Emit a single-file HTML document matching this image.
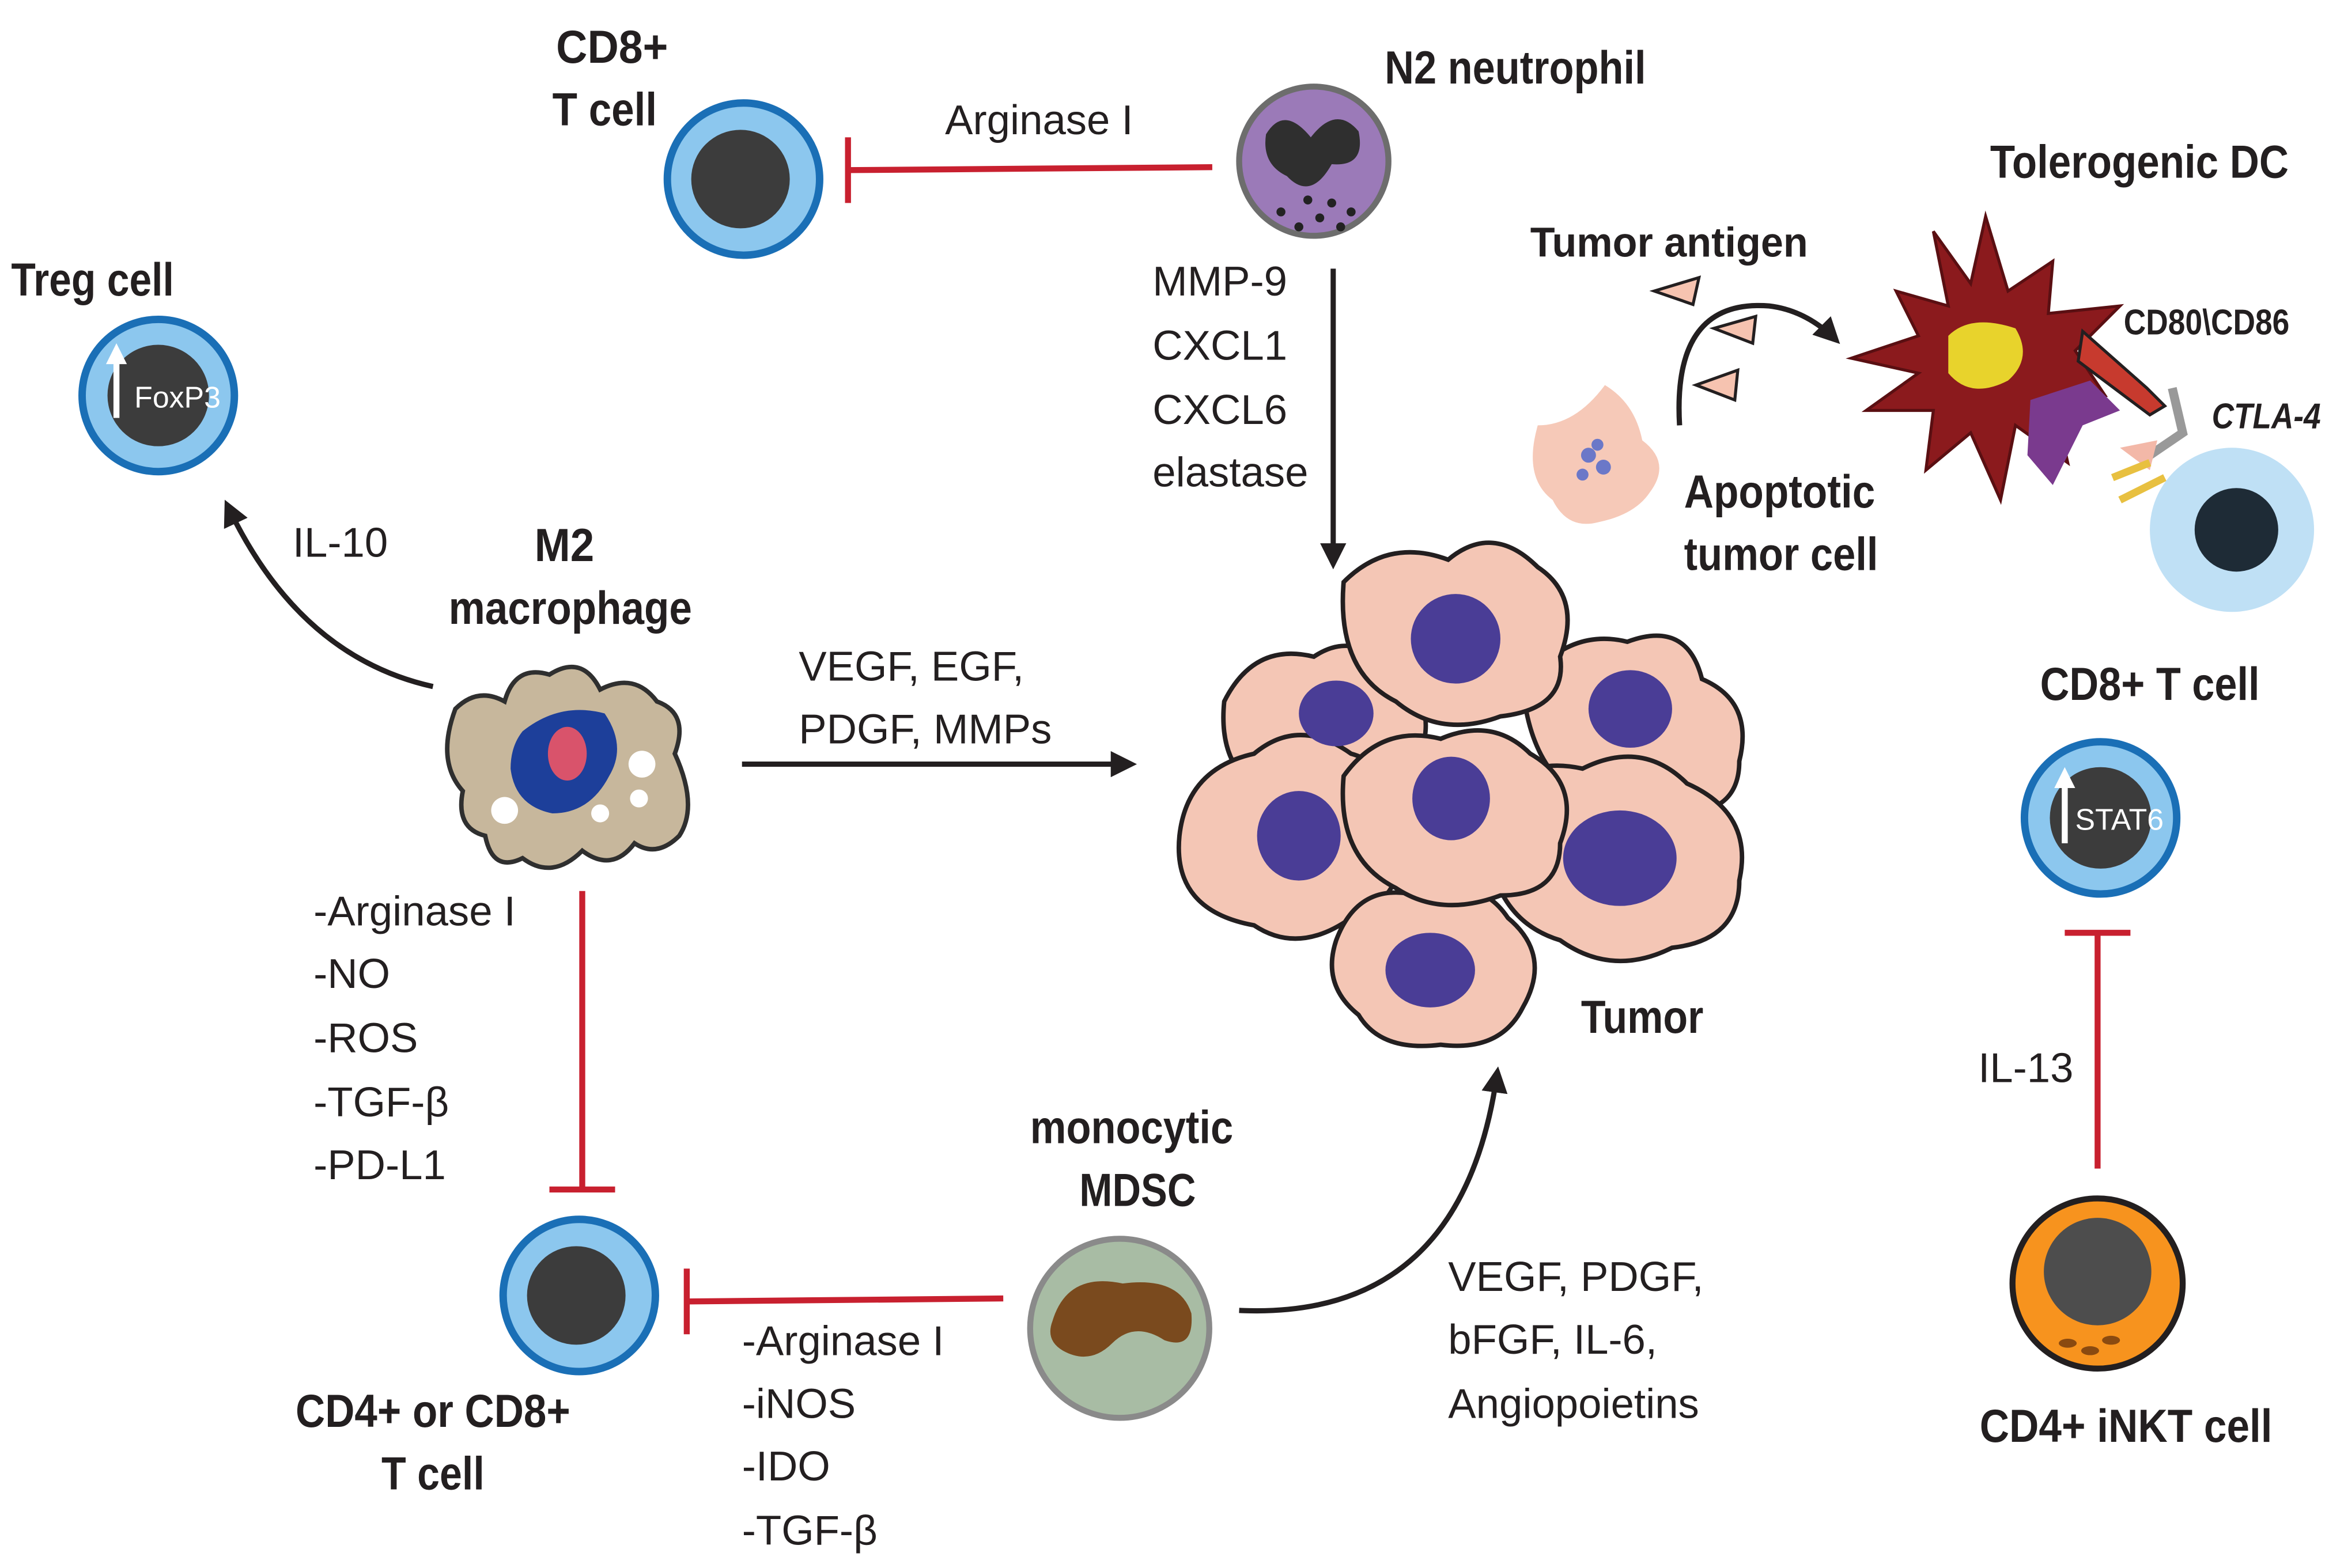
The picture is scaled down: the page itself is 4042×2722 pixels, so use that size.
<!DOCTYPE html>
<html><head><meta charset="utf-8"><style>
html,body{margin:0;padding:0;background:#fff}
svg{display:block}
.b{font-family:"Liberation Sans Narrow","Liberation Sans",sans-serif;font-weight:bold;font-size:31px;fill:#231f20;text-anchor:middle}
.t{font-family:"Liberation Sans",sans-serif;font-size:28px;fill:#231f20}
</style></head><body>
<svg width="4042" height="2722" viewBox="0 0 1560 1050.6" preserveAspectRatio="none" xmlns="http://www.w3.org/2000/svg">
<defs>
<marker id="ah" viewBox="0 0 10 10" refX="8" refY="5" markerWidth="5" markerHeight="5" orient="auto"><path d="M0,0 L10,5 L0,10 z" fill="#231f20"/></marker>
</defs>
<circle cx="498" cy="120" r="51" fill="#8cc7ee" stroke="#1a6fb6" stroke-width="5"/>
<circle cx="496" cy="120" r="33" fill="#3c3c3c"/>
<text class="b" x="410" y="42" textLength="75" lengthAdjust="spacingAndGlyphs">CD8+</text><text class="b" x="405" y="84" textLength="70" lengthAdjust="spacingAndGlyphs">T cell</text>
<line x1="812" y1="112" x2="568" y2="114" stroke="#c8202f" stroke-width="4"/>
<line x1="568" y1="92" x2="568" y2="136" stroke="#c8202f" stroke-width="4"/>
<text class="t" x="633" y="90">Arginase I</text>
<circle cx="880" cy="108" r="50" fill="#9b7ab8" stroke="#6d6d6d" stroke-width="4"/>
<path d="M848,90 Q860,70 878,92 Q895,70 910,88 Q915,112 892,110 Q878,135 862,118 Q845,110 848,90z" fill="#2f2f2f"/>
<g fill="#222"><circle cx="858" cy="142" r="3"/><circle cx="870" cy="152" r="3"/><circle cx="884" cy="146" r="3"/><circle cx="898" cy="152" r="3"/><circle cx="876" cy="134" r="3"/><circle cx="892" cy="136" r="3"/><circle cx="905" cy="142" r="3"/></g>
<text class="b" x="1015" y="56" textLength="175" lengthAdjust="spacingAndGlyphs">N2 neutrophil</text>
<text class="t" x="772" y="198">MMP-9</text><text class="t" x="772" y="241">CXCL1</text><text class="t" x="772" y="284">CXCL6</text><text class="t" x="772" y="326">elastase</text>
<line x1="893" y1="180" x2="893" y2="378" stroke="#231f20" stroke-width="3.5" marker-end="url(#ah)"/>
<circle cx="106" cy="265" r="51" fill="#8cc7ee" stroke="#1a6fb6" stroke-width="5"/>
<circle cx="106" cy="265" r="34" fill="#3c3c3c"/>
<line x1="78" y1="280" x2="78" y2="238" stroke="#fff" stroke-width="4"/><path d="M71,244 L78,230 L85,244z" fill="#fff"/>
<text x="90" y="273" style="font-family:'Liberation Sans',sans-serif;font-size:20px" fill="#fff">FoxP3</text>
<text class="b" x="62" y="198" textLength="109" lengthAdjust="spacingAndGlyphs">Treg cell</text>
<text class="t" x="196" y="373">IL-10</text>
<path d="M290,460 Q200,440 152,338" fill="none" stroke="#231f20" stroke-width="3.5" marker-end="url(#ah)"/>
<text class="b" x="378" y="376" textLength="40" lengthAdjust="spacingAndGlyphs">M2</text><text class="b" x="382" y="418" textLength="163" lengthAdjust="spacingAndGlyphs">macrophage</text>
<path d="M305,475 Q320,460 338,470 Q345,445 368,452 Q390,438 402,462 Q425,450 440,470 Q462,478 452,505 Q468,540 455,560 Q440,575 425,565 Q410,585 390,570 Q370,590 350,575 Q330,585 325,560 Q305,555 310,530 Q292,510 305,475z" fill="#c7b79c" stroke="#2f2f2f" stroke-width="3"/>
<path d="M350,490 Q375,470 405,478 Q420,500 408,520 Q395,545 370,545 Q345,540 342,515 Q342,500 350,490z" fill="#1d3f9a"/>
<ellipse cx="380" cy="505" rx="13" ry="18" fill="#d9536b"/>
<g fill="#fff"><circle cx="430" cy="512" r="9"/><circle cx="338" cy="543" r="9"/><circle cx="402" cy="545" r="6"/><circle cx="428" cy="535" r="6"/></g>
<text class="t" x="535" y="456">VEGF, EGF,</text><text class="t" x="535" y="498">PDGF, MMPs</text>
<line x1="497" y1="512" x2="758" y2="512" stroke="#231f20" stroke-width="3.5" marker-end="url(#ah)"/>
<text class="t" x="210" y="620">-Arginase I</text><text class="t" x="210" y="662">-NO</text><text class="t" x="210" y="705">-ROS</text><text class="t" x="210" y="748">-TGF-β</text><text class="t" x="210" y="790">-PD-L1</text>
<line x1="390" y1="597" x2="390" y2="797" stroke="#c8202f" stroke-width="4"/>
<line x1="368" y1="797" x2="412" y2="797" stroke="#c8202f" stroke-width="4"/>
<circle cx="388" cy="868" r="51" fill="#8cc7ee" stroke="#1a6fb6" stroke-width="5"/>
<circle cx="386" cy="868" r="33" fill="#3c3c3c"/>
<text class="b" x="290" y="956" textLength="184" lengthAdjust="spacingAndGlyphs">CD4+ or CD8+</text><text class="b" x="290" y="998" textLength="69" lengthAdjust="spacingAndGlyphs">T cell</text>
<line x1="672" y1="870" x2="460" y2="872" stroke="#c8202f" stroke-width="4"/>
<line x1="460" y1="850" x2="460" y2="894" stroke="#c8202f" stroke-width="4"/>
<text class="t" x="497" y="908">-Arginase I</text><text class="t" x="497" y="950">-iNOS</text><text class="t" x="497" y="992">-IDO</text><text class="t" x="497" y="1035">-TGF-β</text>
<circle cx="750" cy="890" r="60" fill="#a8bca4" stroke="#8a8a8a" stroke-width="4"/>
<path d="M705,885 Q715,852 752,860 Q790,855 798,880 Q800,905 780,898 Q760,885 745,900 Q730,915 712,905 Q700,898 705,885z" fill="#7a4a1e"/>
<text class="b" x="758" y="766" textLength="136" lengthAdjust="spacingAndGlyphs">monocytic</text><text class="b" x="762" y="808" textLength="78" lengthAdjust="spacingAndGlyphs">MDSC</text>
<path d="M830,878 Q980,885 1003,718" fill="none" stroke="#231f20" stroke-width="3.5" marker-end="url(#ah)"/>
<text class="t" x="970" y="865">VEGF, PDGF,</text><text class="t" x="970" y="907">bFGF, IL-6,</text><text class="t" x="970" y="950">Angiopoietins</text>
<g stroke="#231f20" stroke-width="3" fill="#f4c6b5">
<path d="M820,470 Q840,430 880,440 Q910,420 935,455 Q965,470 950,510 Q955,545 915,545 Q880,560 855,535 Q815,520 820,470z"/>
<path d="M1020,460 Q1050,420 1090,430 Q1130,415 1140,455 Q1175,470 1165,510 Q1165,545 1125,545 Q1090,560 1060,535 Q1025,515 1020,460z"/>
<path d="M900,390 Q930,360 970,375 Q1000,350 1030,380 Q1060,400 1045,440 Q1050,475 1005,480 Q965,495 935,470 Q895,450 900,390z"/>
<path d="M790,560 Q795,515 840,505 Q870,480 905,505 Q940,515 935,560 Q945,600 905,615 Q870,640 840,620 Q785,610 790,560z"/>
<path d="M895,630 Q910,590 950,600 Q990,585 1010,615 Q1040,640 1020,675 Q1005,705 965,700 Q925,705 910,680 Q885,660 895,630z"/>
<path d="M995,545 Q1015,505 1060,515 Q1100,495 1130,525 Q1175,545 1165,590 Q1165,630 1120,635 Q1080,655 1045,630 Q995,615 995,545z"/>
<path d="M900,520 Q925,485 965,495 Q1000,480 1025,505 Q1060,525 1045,565 Q1045,600 1005,600 Q965,615 935,595 Q895,575 900,520z"/>
</g>
<g fill="#4a3d96">
<ellipse cx="895" cy="478" rx="25" ry="22"/><ellipse cx="1092" cy="475" rx="28" ry="26"/><ellipse cx="975" cy="428" rx="30" ry="30"/>
<ellipse cx="870" cy="560" rx="28" ry="30"/><ellipse cx="958" cy="650" rx="30" ry="25"/><ellipse cx="1085" cy="575" rx="38" ry="32"/><ellipse cx="972" cy="535" rx="26" ry="28"/>
</g>
<text class="b" x="1100" y="692" textLength="82" lengthAdjust="spacingAndGlyphs">Tumor</text>
<text class="b" x="1118" y="172" style="font-size:28px" textLength="186" lengthAdjust="spacingAndGlyphs">Tumor antigen</text>
<g fill="#f6c3b0" stroke="#231f20" stroke-width="2"><path d="M1108,195 L1138,186 L1134,204z"/><path d="M1148,220 L1176,212 L1174,230z"/><path d="M1136,258 L1164,248 L1162,268z"/></g>
<path d="M1125,285 Q1120,200 1185,205 Q1210,208 1230,228" fill="none" stroke="#231f20" stroke-width="3.5" marker-end="url(#ah)"/>
<path d="M1030,285 Q1055,285 1075,258 Q1095,270 1100,295 Q1120,310 1105,330 Q1095,345 1070,350 Q1050,355 1040,335 Q1020,320 1030,285z" fill="#f6c9b8"/>
<g fill="#6b78c8"><circle cx="1064" cy="305" r="5"/><circle cx="1074" cy="313" r="5"/><circle cx="1060" cy="318" r="4"/><circle cx="1070" cy="298" r="4"/></g>
<text class="b" x="1192" y="340" textLength="128" lengthAdjust="spacingAndGlyphs">Apoptotic</text><text class="b" x="1193" y="382" textLength="130" lengthAdjust="spacingAndGlyphs">tumor cell</text>
<text class="b" x="1433" y="119" textLength="200" lengthAdjust="spacingAndGlyphs">Tolerogenic DC</text>
<path d="M1330,145 L1345,195 L1375,175 L1372,210 L1420,205 L1390,235 L1410,265 L1375,265 L1385,310 L1350,285 L1340,335 L1320,290 L1290,315 L1295,275 L1250,275 L1285,250 L1240,240 L1285,225 L1270,195 L1305,205 L1295,155 L1320,190z" fill="#8b1a1d" stroke="#5a0f12" stroke-width="2"/>
<path d="M1305,225 Q1320,210 1350,220 Q1362,240 1345,255 Q1320,268 1305,250z" fill="#e8d32c"/>
<path d="M1395,222 L1438,260 L1450,272 L1440,278 L1392,242z" fill="#c73a2e" stroke="#231f20" stroke-width="2"/>
<path d="M1360,268 L1400,255 L1420,275 L1395,285 L1375,325 L1358,305z" fill="#7a3a8e"/>
<path d="M1455,260 L1462,290 L1440,305" fill="none" stroke="#999" stroke-width="6"/>
<path d="M1420,300 L1445,295 L1440,315z" fill="#f3b8a8"/>
<path d="M1415,320 L1440,310 M1420,335 L1450,320" stroke="#e8c040" stroke-width="5"/>
<circle cx="1495" cy="355" r="55" fill="#bfe0f5"/>
<circle cx="1498" cy="355" r="28" fill="#1e2b36"/>
<text class="b" x="1478" y="224" style="font-size:24px" textLength="111" lengthAdjust="spacingAndGlyphs">CD80\CD86</text>
<text x="1518" y="287" style="font-family:'Liberation Sans Narrow','Liberation Sans',sans-serif;font-weight:bold;font-style:italic;font-size:24px;text-anchor:middle" fill="#231f20" textLength="73" lengthAdjust="spacingAndGlyphs">CTLA-4</text>
<text class="b" x="1440" y="469" textLength="147" lengthAdjust="spacingAndGlyphs">CD8+ T cell</text>
<circle cx="1407" cy="548" r="51" fill="#8cc7ee" stroke="#1a6fb6" stroke-width="5"/>
<circle cx="1407" cy="548" r="34" fill="#3c3c3c"/>
<line x1="1383" y1="565" x2="1383" y2="522" stroke="#fff" stroke-width="4"/><path d="M1376,528 L1383,514 L1390,528z" fill="#fff"/>
<text x="1390" y="556" style="font-family:'Liberation Sans',sans-serif;font-size:20px" fill="#fff">STAT6</text>
<line x1="1405" y1="783" x2="1405" y2="625" stroke="#c8202f" stroke-width="4"/>
<line x1="1383" y1="625" x2="1427" y2="625" stroke="#c8202f" stroke-width="4"/>
<text class="t" x="1325" y="725">IL-13</text>
<circle cx="1405" cy="860" r="57" fill="#f7931e" stroke="#231f20" stroke-width="4"/>
<circle cx="1405" cy="852" r="36" fill="#4d4d4d"/>
<g fill="#8a4a10"><ellipse cx="1385" cy="900" rx="6" ry="3"/><ellipse cx="1400" cy="905" rx="6" ry="3"/><ellipse cx="1414" cy="898" rx="6" ry="3"/></g>
<text class="b" x="1424" y="966" textLength="196" lengthAdjust="spacingAndGlyphs">CD4+ iNKT cell</text>
</svg>
</body></html>
